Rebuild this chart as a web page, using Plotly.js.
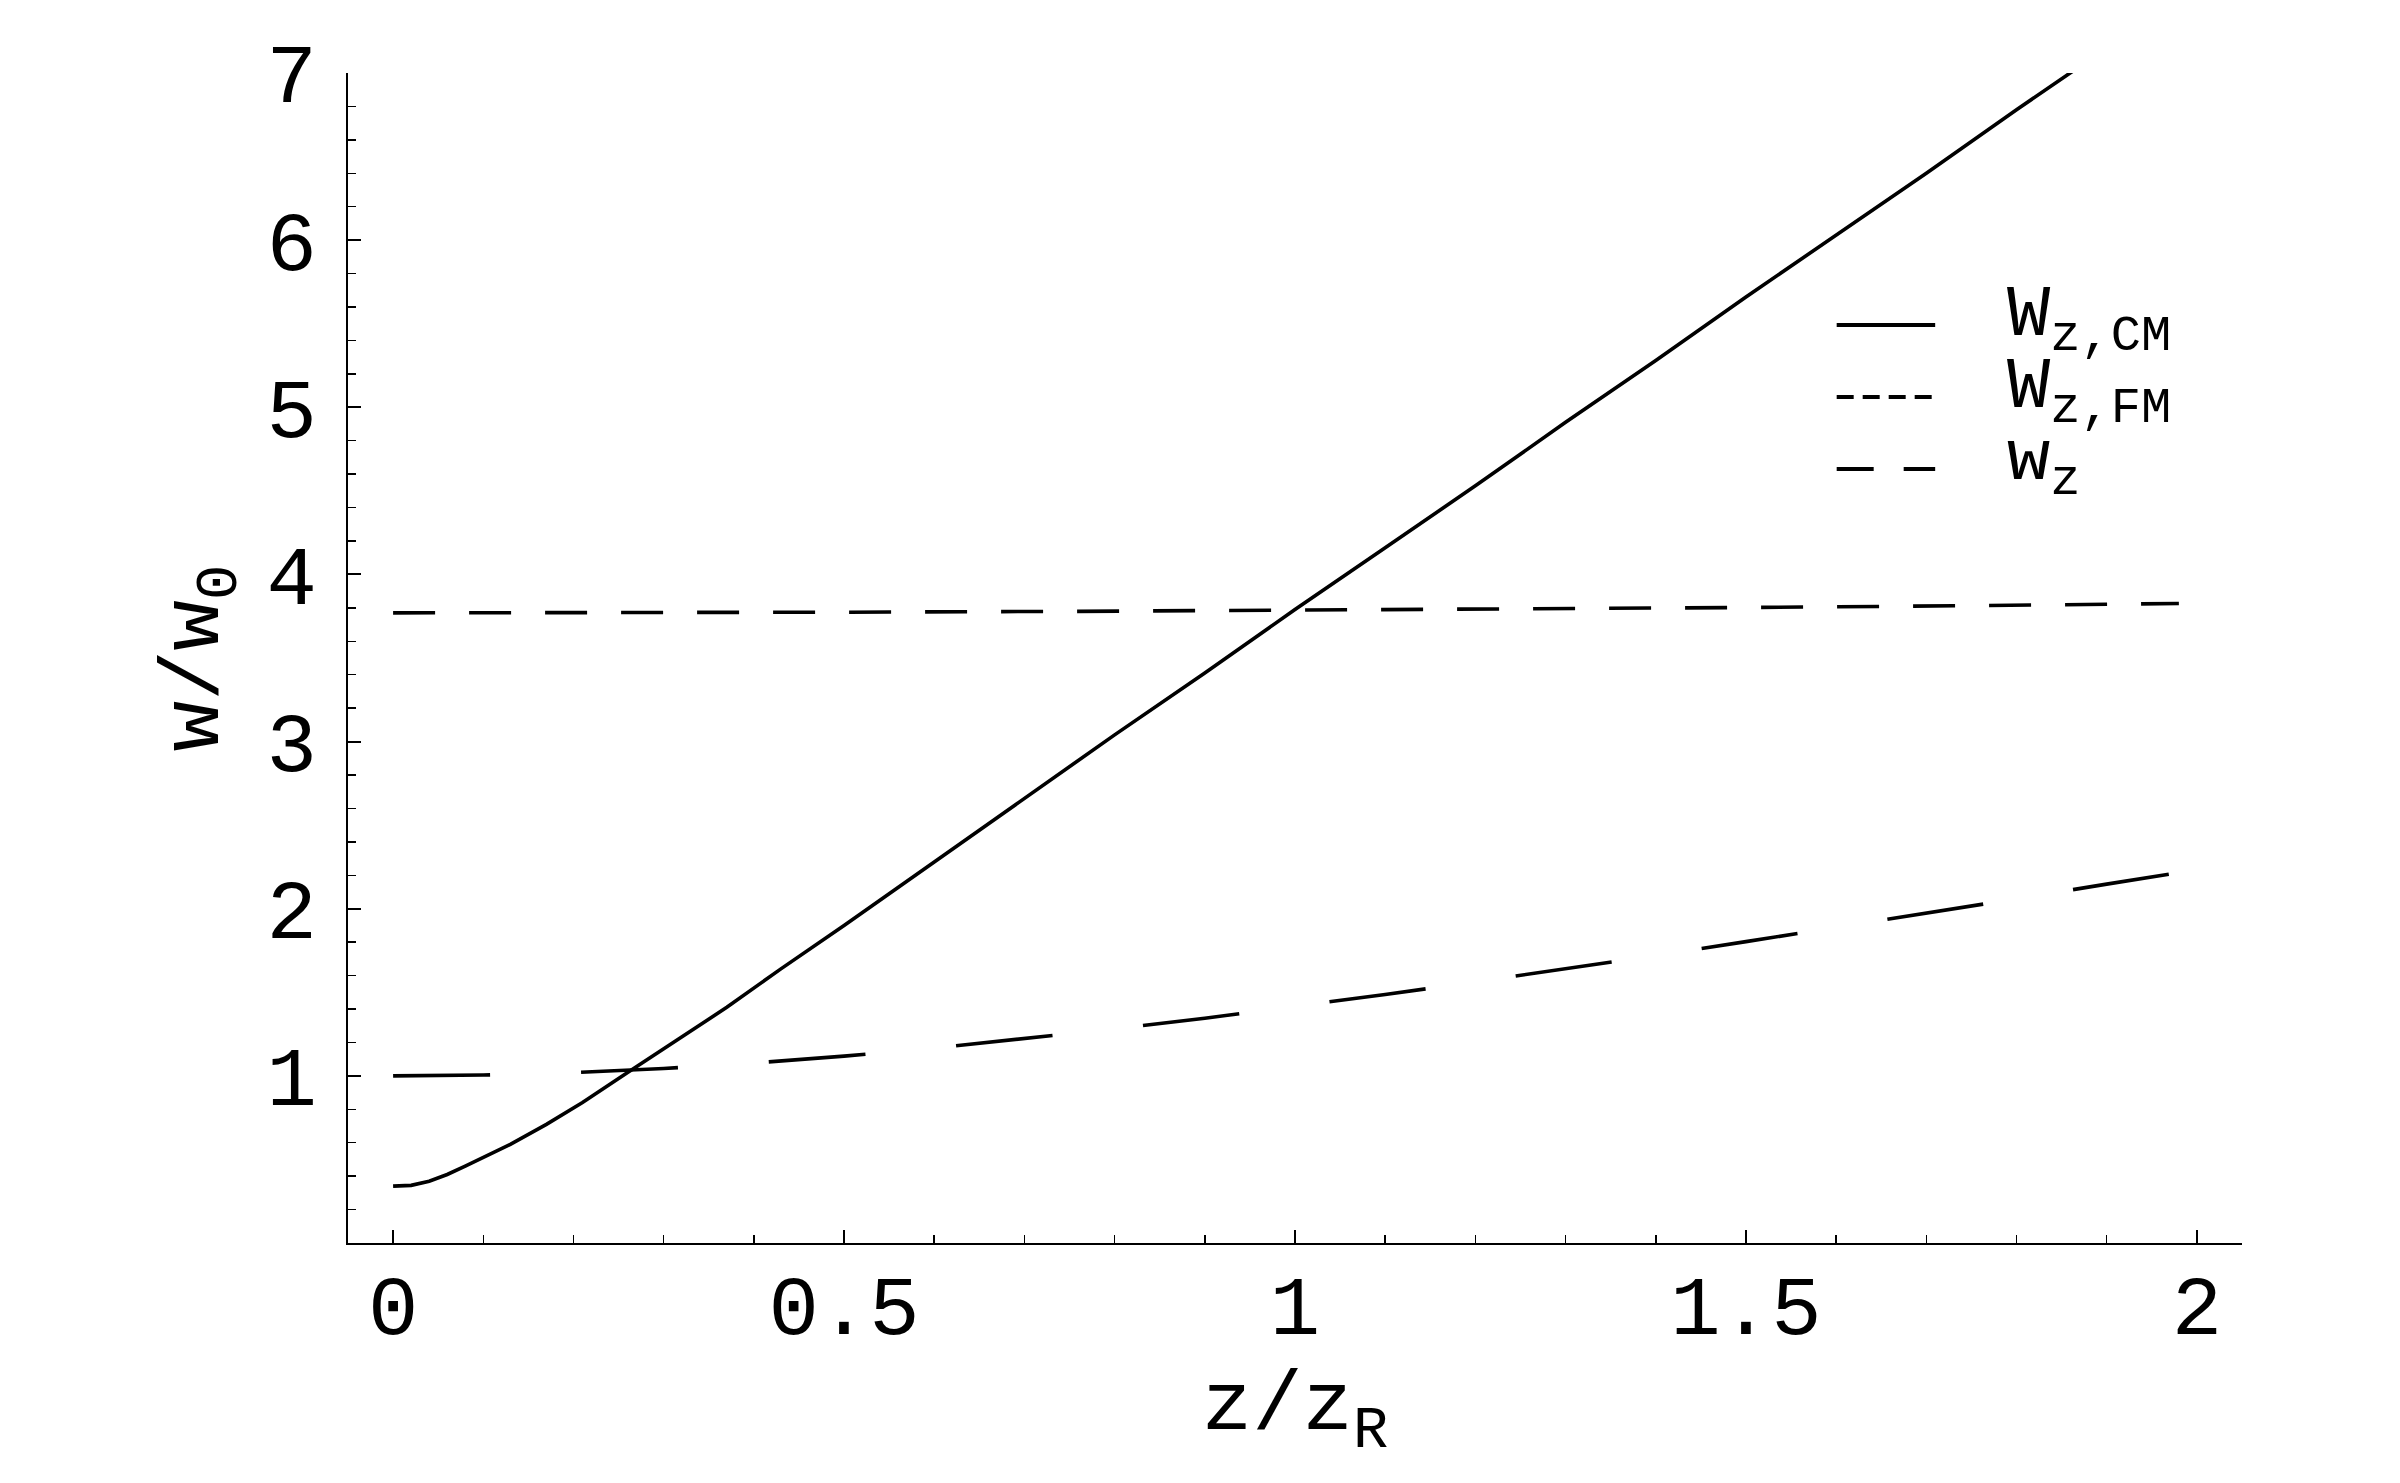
<!DOCTYPE html>
<html>
<head>
<meta charset="utf-8">
<script src="https://cdn.plot.ly/plotly-3.0.1.min.js"></script>
<style>
  body { margin: 0; background: #fff; }
  #graph { width: 2400px; height: 1483px; }
</style>
</head>
<body>
<div id="graph"></div>
<script>
// values (z in units of z_R, widths in units of w0)
var zCM = [0, 0.02, 0.04, 0.06, 0.08, 0.1, 0.13, 0.17, 0.21, 0.26, 0.32, 0.37, 0.43, 0.5, 0.6, 0.7, 0.8,
           0.9, 1.0, 1.1, 1.2, 1.3, 1.4, 1.5, 1.6, 1.7, 1.8, 1.86, 1.9];
var wCM = [0.34, 0.345, 0.37, 0.41, 0.46, 0.51, 0.59, 0.71, 0.84, 1.02, 1.23, 1.41, 1.64, 1.90, 2.28, 2.66, 3.04,
           3.41, 3.79, 4.16, 4.53, 4.91, 5.28, 5.66, 6.03, 6.40, 6.78, 7.0, 7.15];

var zFM = [0, 0.25, 0.5, 0.75, 1.0, 1.25, 1.5, 1.75, 1.98];
var wFM = [3.770, 3.771, 3.774, 3.779, 3.785, 3.793, 3.802, 3.813, 3.826];

var zW = [0, 0.1, 0.2, 0.3, 0.4, 0.5, 0.6, 0.7, 0.8, 0.9, 1.0, 1.1, 1.2, 1.3, 1.4, 1.5, 1.6, 1.7, 1.8, 1.9, 1.98];
var wW = [1.0, 1.005, 1.02, 1.044, 1.077, 1.118, 1.166, 1.221, 1.281, 1.345, 1.414, 1.487, 1.562, 1.640,
          1.720, 1.803, 1.887, 1.972, 2.059, 2.147, 2.216];

var names = ["W<sub>z,CM</sub>", "W<sub>z,FM</sub>", "w<sub>z</sub>"];
var yTicks = [1, 2, 3, 4, 5, 6, 7];

var font = "Liberation Mono, Courier New, monospace";
var lw = 3.6;
var plotDash = ["solid", "42px,34px", "97px,91px"];
var keyDash = ["solid", "17px,9px", "37px,30px"];

var traces = [
  { x: zCM, y: wCM, mode: "lines", name: names[0], line: { color: "black", width: lw, dash: plotDash[0] } },
  { x: zFM, y: wFM, mode: "lines", name: names[1], line: { color: "black", width: lw, dash: plotDash[1] } },
  { x: zW, y: wW, mode: "lines", name: names[2], line: { color: "black", width: lw, dash: plotDash[2] } }
];

// hand made key, the built-in legend symbol is too short for the long dashes
var keyY = [0.7846, 0.7231, 0.6615];
var shapes = [], notes = [];
for (var i = 0; i < names.length; i++) {
  shapes.push({
    type: "line", xref: "paper", yref: "paper",
    x0: 0.786, x1: 0.838, y0: keyY[i], y1: keyY[i],
    line: { color: "black", width: 4, dash: keyDash[i] }
  });
  notes.push({
    xref: "paper", yref: "paper", x: 0.875, y: keyY[i] + 0.004,
    xanchor: "left", yanchor: "middle", showarrow: false,
    text: names[i], font: { family: font, size: 72, color: "black" }
  });
}

var layout = {
  width: 2400,
  height: 1483,
  paper_bgcolor: "white",
  plot_bgcolor: "white",
  showlegend: false,
  margin: { l: 348, r: 158, t: 73, b: 240 },
  font: { family: font, size: 84, color: "black" },
  xaxis: {
    range: [-0.05, 2.05],
    dtick: 0.5,
    tick0: 0,
    ticks: "inside",
    ticklen: 13,
    tickwidth: 2,
    tickcolor: "black",
    minor: { dtick: 0.1, tick0: 0, ticks: "inside", ticklen: 8, tickwidth: 1.5, tickcolor: "black" },
    showline: true,
    linewidth: 2.3,
    linecolor: "black",
    showgrid: false,
    zeroline: false,
    ticklabelstandoff: -12,
    title: { text: "z/z<sub>R</sub>", font: { family: font, size: 84 }, standoff: 0 }
  },
  yaxis: {
    range: [0, 7],
    tickmode: "array",
    tickvals: yTicks,
    ticktext: yTicks.map(String),
    ticks: "inside",
    ticklen: 13,
    tickwidth: 2,
    tickcolor: "black",
    minor: { dtick: 0.2, tick0: 0, ticks: "inside", ticklen: 8, tickwidth: 1.5, tickcolor: "black" },
    showline: true,
    linewidth: 2.3,
    linecolor: "black",
    showgrid: false,
    zeroline: false,
    ticklabelstandoff: 12,
    title: { text: "w/w<sub>0</sub>", font: { family: font, size: 84 }, standoff: 20 }
  },
  shapes: shapes,
  annotations: notes
};

Plotly.newPlot("graph", traces, layout, { displayModeBar: false, staticPlot: true });
</script>
</body>
</html>
